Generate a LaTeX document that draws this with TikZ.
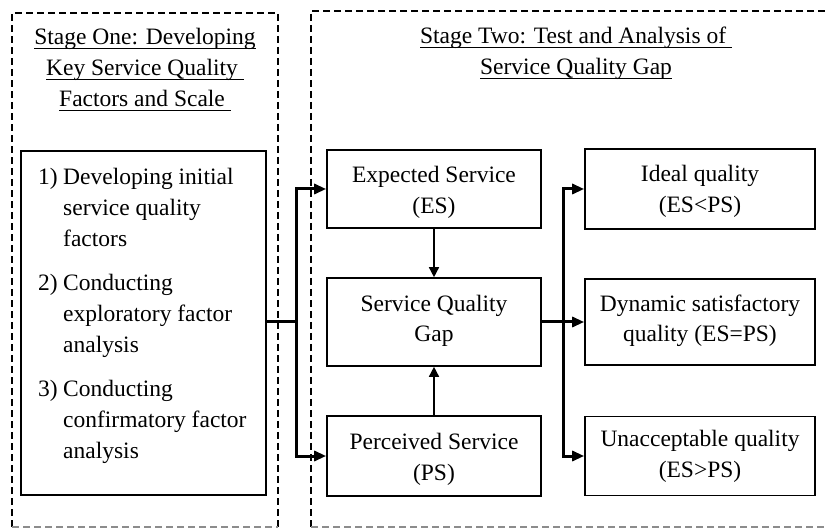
\documentclass[tikz,border=0pt]{standalone}
\usepackage{fontspec}
\setmainfont{Liberation Serif}
\usetikzlibrary{arrows.meta}
% underline drawn a fixed distance under the baseline
\newcommand\ulbox[1]{\setbox0\hbox{#1}\rlap{\rule[-4.5pt]{\wd0}{1.6pt}}\box0}
\begin{document}
\begin{tikzpicture}[x=1pt,y=-1pt,
  txt/.style={font=\fontsize{23.5}{31}\selectfont, inner sep=0pt},
  lbl/.style={txt, align=center, anchor=base},
  stagebox/.style={draw, line width=1.5pt, dash pattern=on 7pt off 4pt},
  stageedge/.style={stagebox, draw=black!45},
  box/.style={draw, line width=1.6pt, inner sep=0pt},
  heavy/.style={line width=3pt, -{Triangle[length=12pt,width=10pt]}},
  heavyline/.style={line width=3pt},
  light/.style={line width=1.5pt, -{Triangle[length=10pt,width=10pt]}}]
\useasboundingbox (0,0) rectangle (825,529);

% stage frames (the lower edges are fainter)
\draw[stagebox] (12,527) -- (12,13) -- (278,13) -- (278,527);
\draw[stageedge] (12,527) -- (278,527);
\draw[stagebox] (825,11) -- (311,11) -- (311,527);
\draw[stageedge] (311,527) -- (825,527);

% stage headings (anchored at the baseline of their last line)
\node[lbl] (h1) at (145,107)
  {\ulbox{Stage One: Developing}\\ \ulbox{Key Service Quality\ }\\ \ulbox{Factors and Scale\ }};
\node[lbl] (h2) at (576,75)
  {\ulbox{Stage Two: Test and Analysis of\ }\\ \ulbox{Service Quality Gap}};

% stage one steps
\node[box, minimum width=245pt, minimum height=344pt] (s1) at (143.5,323) {};
\node[txt, align=left, anchor=base west] (steps) at (38,458)
  {\makebox[25pt][l]{1)}Developing initial\\
   \hspace*{25pt}service quality\\
   \hspace*{25pt}factors\\[13pt]
   \makebox[25pt][l]{2)}Conducting\\
   \hspace*{25pt}exploratory factor\\
   \hspace*{25pt}analysis\\[13pt]
   \makebox[25pt][l]{3)}Conducting\\
   \hspace*{25pt}confirmatory factor\\
   \hspace*{25pt}analysis};

% stage two boxes
\node[box, minimum width=214pt, minimum height=78pt] (es) at (434,189) {};
\node[box, minimum width=214pt, minimum height=88pt] (gap) at (434,322) {};
\node[box, minimum width=214pt, minimum height=80pt] (ps) at (434,456) {};
\node[box, minimum width=230pt, minimum height=80pt] (ideal) at (700,189) {};
\node[box, minimum width=230pt, minimum height=86pt] (dyn) at (700,322) {};
\node[box, minimum width=230pt, minimum height=79pt] (bad) at (700,456) {};

% box texts
\node[lbl] (est) at (434,214) {Expected Service\\(ES)};
\node[lbl] (gapt) at (434,342) {Service Quality\\Gap};
\node[lbl] (pst) at (434,480) {Perceived Service\\(PS)};
\node[lbl] (idealt) at (700,213) {Ideal quality\\(ES<PS)};
\node[lbl] (dynt) at (700,342) {Dynamic satisfactory\\quality (ES=PS)};
\node[lbl] (badt) at (700,477) {Unacceptable quality\\(ES>PS)};

% branch points
\coordinate (j1) at (296,322);
\coordinate (j2) at (563,322);

% connectors
\draw[heavyline] (s1.east |- j1) -- (j1);
\draw[heavy] (j1) |- (es.west);
\draw[heavy] (j1) |- (ps.west);
\draw[light] (es.south) -- (gap.north);
\draw[light] (ps.north) -- (gap.south);
\draw[heavyline] (gap.east) -- (j2);
\draw[heavy] (j2) |- (ideal.west);
\draw[heavy] (j2) -- (dyn.west);
\draw[heavy] (j2) |- (bad.west);
\end{tikzpicture}
\end{document}
